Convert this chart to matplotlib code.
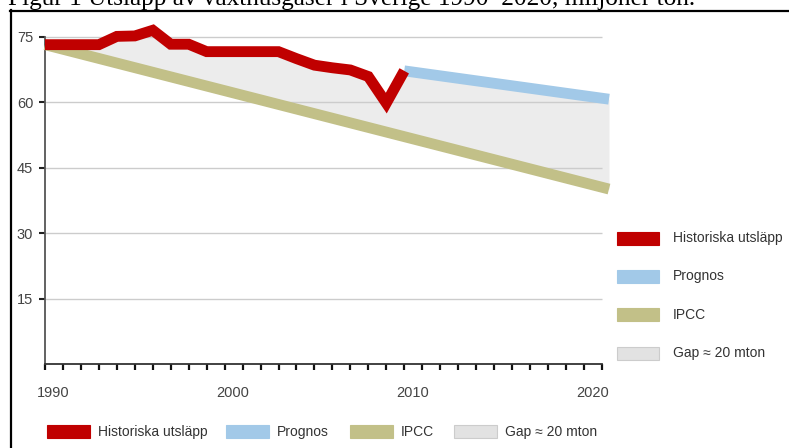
import numpy as np
import matplotlib
matplotlib.use("Agg")
import matplotlib.pyplot as plt
from matplotlib.lines import Line2D
from matplotlib.patches import Rectangle
import matplotlib.transforms as mtransforms

plt.rcParams['font.family'] = ['Liberation Sans', 'DejaVu Sans']

# data (million tonnes)
hist_years = [1990, 1991, 1992, 1993, 1994, 1995, 1996, 1997, 1998, 1999, 2000,
              2001, 2002, 2003, 2004, 2005, 2006, 2007, 2008, 2009, 2010]
hist_vals = [73.2, 73.2, 73.2, 73.2, 75.1, 75.2, 76.5, 73.3, 73.3, 71.6, 71.6,
             71.6, 71.6, 71.6, 70.0, 68.5, 67.9, 67.4, 65.9, 59.8, 67.2]
prog_years = [2010, 2021.4]
prog_vals = [67.2, 60.7]
ipcc_years = [1990, 2021.4]
ipcc_vals = [73.2, 40.1]

yticks = [15, 30, 45, 60, 75]
xlabels = [1990, 2000, 2010, 2020]
names = ['Historiska utsläpp', 'Prognos', 'IPCC', 'Gap \u2248 20 mton']
colors = ['#c00000', '#a2c9e8', '#c2c088', '#e2e2e2']

W, H = 789, 448
fig = plt.figure(figsize=(W / 100, H / 100), dpi=100)

def fx(px): return px / W
def fy(py): return 1 - py / H

ax = fig.add_axes([fx(45), fy(364), fx(609) - fx(45), fy(15) - fy(364)])
ax.set_xlim(1990, 2021.4)
ax.set_ylim(0, 80)

# gap area between the top curve and the IPCC path
top_x = np.array(hist_years + prog_years[1:])
top_y = np.array(hist_vals + prog_vals[1:])
low_y = np.interp(top_x, ipcc_years, ipcc_vals)
ax.fill_between(top_x, low_y, top_y, color='#ececec', lw=0, zorder=1)

ax.hlines(yticks, 1990, 2021, colors='#cccccc', lw=1, zorder=2)

lw = 7.8
ax.plot(ipcc_years, ipcc_vals, color=colors[2], lw=lw, solid_capstyle='butt', zorder=3, clip_on=False)
ax.plot(prog_years, prog_vals, color=colors[1], lw=lw, solid_capstyle='butt', zorder=4, clip_on=False)
ax.plot(hist_years, hist_vals, color=colors[0], lw=lw, solid_capstyle='butt',
        solid_joinstyle='miter', zorder=5, clip_on=False)

for s in ['top', 'right']:
    ax.spines[s].set_visible(False)
ax.spines['left'].set_bounds(0, 75)
ax.spines['left'].set_color('#555555')
ax.spines['left'].set_linewidth(1.3)
ax.spines['bottom'].set_bounds(1990, 2021)
ax.spines['bottom'].set_color('#333333')
ax.spines['bottom'].set_linewidth(1.3)

ax.set_yticks(yticks)
ax.tick_params(axis='y', direction='out', length=4.5, width=1.5, color='#222222',
               labelsize=10.5, labelcolor='#444444', pad=4)
ax.set_xticks(range(1990, 2022))
ax.set_xticklabels([str(y) if y in xlabels else '' for y in range(1990, 2022)])
ax.tick_params(axis='x', direction='out', length=4.5, width=1.6, color='#111111',
               labelsize=10.5, labelcolor='#444444', pad=11)
shift = mtransforms.ScaledTranslation(-8 / 100, 0, fig.dpi_scale_trans)
for lab in ax.get_xticklabels():
    lab.set_horizontalalignment('left')
    lab.set_transform(lab.get_transform() + shift)

# legend on the right
for i, (n, c) in enumerate(zip(names, colors)):
    yc = 238 + i * 38.4
    ec = '#cccccc' if i == 3 else c
    fig.patches.append(Rectangle((fx(617), fy(yc + 6.5)), fx(42), 13 / H, facecolor=c,
                                 edgecolor=ec, lw=0.8, transform=fig.transFigure))
    fig.text(fx(673), fy(yc), n, fontsize=10, color='#333333', va='center', ha='left')

# legend at the bottom
bx = [47, 226, 350, 454]
for n, c, x0 in zip(names, colors, bx):
    ec = '#cccccc' if c == colors[3] else c
    fig.patches.append(Rectangle((fx(x0), fy(438)), fx(43), 13 / H, facecolor=c,
                                 edgecolor=ec, lw=0.8, transform=fig.transFigure))
    fig.text(fx(x0 + 51), fy(432), n, fontsize=10, color='#333333', va='center', ha='left')

# document frame and cut-off caption
fig.text(fx(8), fy(5), 'Figur 1 Utsläpp av växthusgaser i Sverige 1990\u20132020, miljoner ton.',
         family='Liberation Serif', fontsize=18.2, color='black', va='baseline', ha='left')
fig.lines.append(Line2D([fx(10), 1], [fy(11), fy(11)], color='black', lw=1.6, transform=fig.transFigure))
fig.lines.append(Line2D([fx(11), fx(11)], [fy(10), 0], color='black', lw=1.6, transform=fig.transFigure))

fig.savefig('out.png', dpi=100)
